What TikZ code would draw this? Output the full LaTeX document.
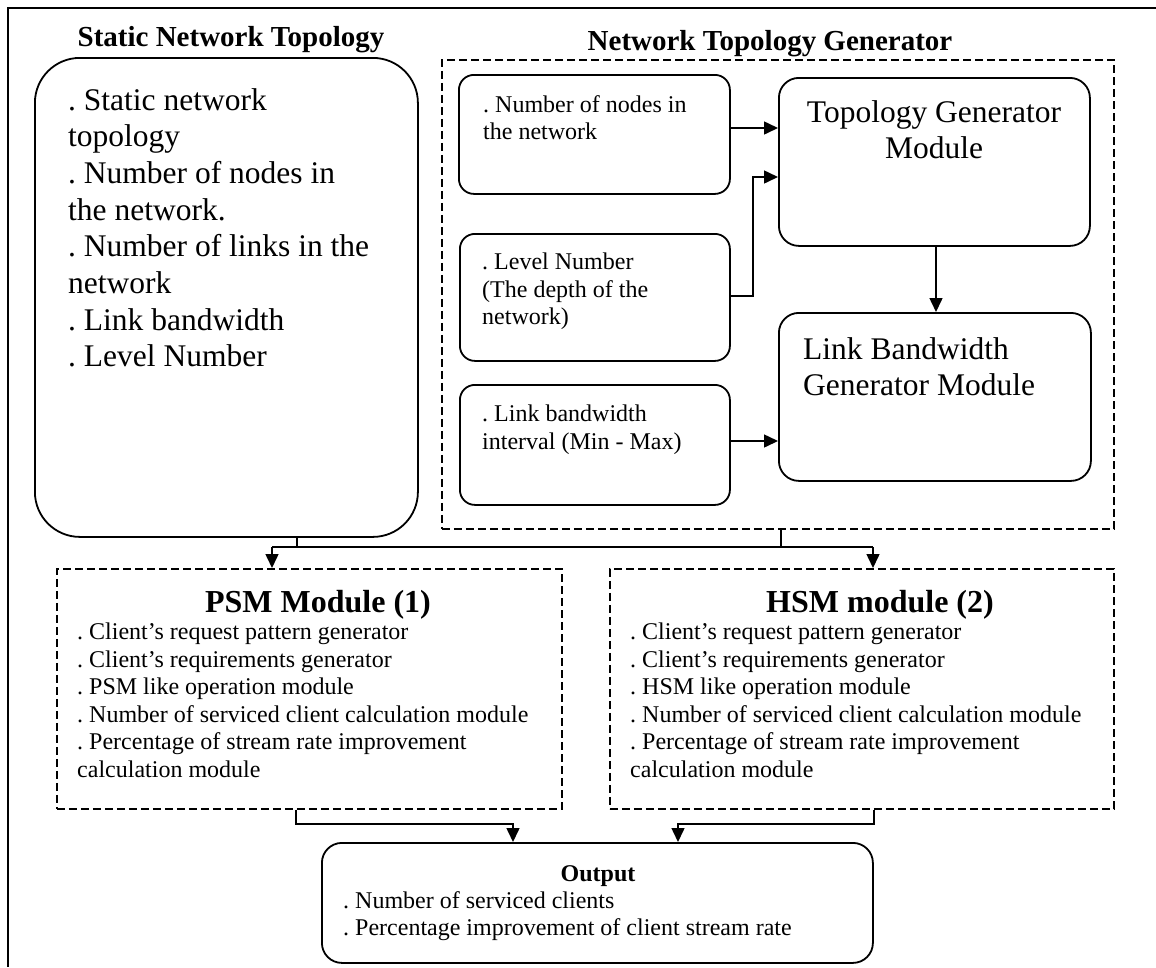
\documentclass[tikz,border=0pt]{standalone}
\usepackage{fontspec}
\setmainfont{Liberation Serif}
\usetikzlibrary{arrows.meta}
\frenchspacing
\begin{document}
\begin{tikzpicture}[x=1pt,y=-1pt,
  rbox/.style={draw, line width=1.8pt, rounded corners=#1, inner sep=0pt, anchor=north west},
  dbox/.style={draw, line width=1.5pt, dash pattern=on 8pt off 4pt, inner sep=0pt, anchor=north west},
  txt/.style={inner sep=0pt, anchor=north west, align=left, execute at begin node=\strut},
  big/.style={font=\fontsize{31.5}{36.7}\selectfont},
  med/.style={font=\fontsize{24}{27.5}\selectfont},
  ttl/.style={inner sep=0pt, anchor=base, font=\fontsize{29}{34}\selectfont\bfseries},
  modttl/.style={inner sep=0pt, anchor=base, font=\fontsize{32}{36}\selectfont\bfseries},
  arr/.style={line width=1.5pt, -{Triangle[length=14pt,width=13pt]}},
  wire/.style={line width=1.5pt}]
\useasboundingbox (0,0) rectangle (1156,967);

% page frame
\draw[line width=2pt] (1156,8) -- (8,8) -- (8,967);

% static topology column
\node[ttl] (snt-title) at (231,46) {Static Network Topology};
\node[rbox=45pt, minimum width=383pt, minimum height=479pt] (snt) at (34,57) {};
\node[txt,big] (snt-t) at (68,88) {. Static network\\topology\\. Number of nodes in\\the network.\\. Number of links in the\\network\\. Link bandwidth\\. Level Number};

% generator group
\node[ttl] (ntg-title) at (770,50) {Network Topology Generator};
\node[dbox, minimum width=672pt, minimum height=469pt] (ntg) at (441,59) {};

\node[rbox=15pt, minimum width=271pt, minimum height=119pt] (nodes) at (458,74) {};
\node[txt,med] (nodes-t) at (483,95) {. Number of nodes in\\the network};

\node[rbox=15pt, minimum width=270pt, minimum height=127pt] (level) at (459,233) {};
\node[txt,med] (level-t) at (482,253) {. Level Number\\(The depth of the\\network)};

\node[rbox=15pt, minimum width=270pt, minimum height=120pt] (bw) at (459,384) {};
\node[txt,med] (bw-t) at (482,405) {. Link bandwidth\\interval (Min - Max)};

\node[rbox=20pt, minimum width=311pt, minimum height=168pt] (tgm) at (778,77) {};
\node[txt,big,align=center,anchor=north] (tgm-t) at (934,100) {Topology Generator\\Module};

\node[rbox=20pt, minimum width=312pt, minimum height=168pt] (lbg) at (778,312) {};
\node[txt,big] (lbg-t) at (803,337) {Link Bandwidth\\Generator Module};

% simulation modules
\node[dbox, minimum width=505pt, minimum height=240pt] (psm) at (56,568) {};
\node[modttl] (psm-title) at (318,612) {PSM Module (1)};
\node[txt,med] (psm-t) at (77,623) {. Client's request pattern generator\\. Client's requirements generator\\. PSM like operation module\\. Number of serviced client calculation module\\. Percentage of stream rate improvement\\calculation module};

\node[dbox, minimum width=504pt, minimum height=240pt] (hsm) at (609,568) {};
\node[modttl] (hsm-title) at (880,612) {HSM module (2)};
\node[txt,med] (hsm-t) at (630,623) {. Client's request pattern generator\\. Client's requirements generator\\. HSM like operation module\\. Number of serviced client calculation module\\. Percentage of stream rate improvement\\calculation module};

% output
\node[rbox=20pt, minimum width=551pt, minimum height=120pt] (out) at (321,842) {};
\node[inner sep=0pt, anchor=base, font=\fontsize{24}{27.5}\selectfont\bfseries] (out-title) at (598,881) {Output};
\node[txt,med] (out-t) at (343,891) {. Number of serviced clients\\. Percentage improvement of client stream rate};

% connectors inside the generator
\draw[arr] (nodes.east |- 0,128) -- (tgm.west |- 0,128);
\draw[arr] (level.east |- 0,296) -| (753,177) -- (tgm.west |- 0,177);
\draw[arr] (bw.east |- 0,441) -- (lbg.west |- 0,441);
\draw[arr] (tgm.south -| 936,0) -- (lbg.north -| 936,0);

% distribution bus to the modules
\coordinate (busL) at (272,547);
\coordinate (busR) at (873,547);
\draw[wire] (snt.south -| 297,0) -- (297,547);
\draw[wire] (ntg.south -| 781,0) -- (781,547);
\draw[wire] (busL) -- (busR);
\draw[arr] (busL) -- (busL |- psm.north);
\draw[arr] (busR) -- (busR |- hsm.north);

% modules to output
\draw[arr] (psm.south -| 296,0) |- (513,824) -- (out.north -| 513,0);
\draw[arr] (hsm.south -| 874,0) |- (678,824) -- (out.north -| 678,0);
\end{tikzpicture}
\end{document}
